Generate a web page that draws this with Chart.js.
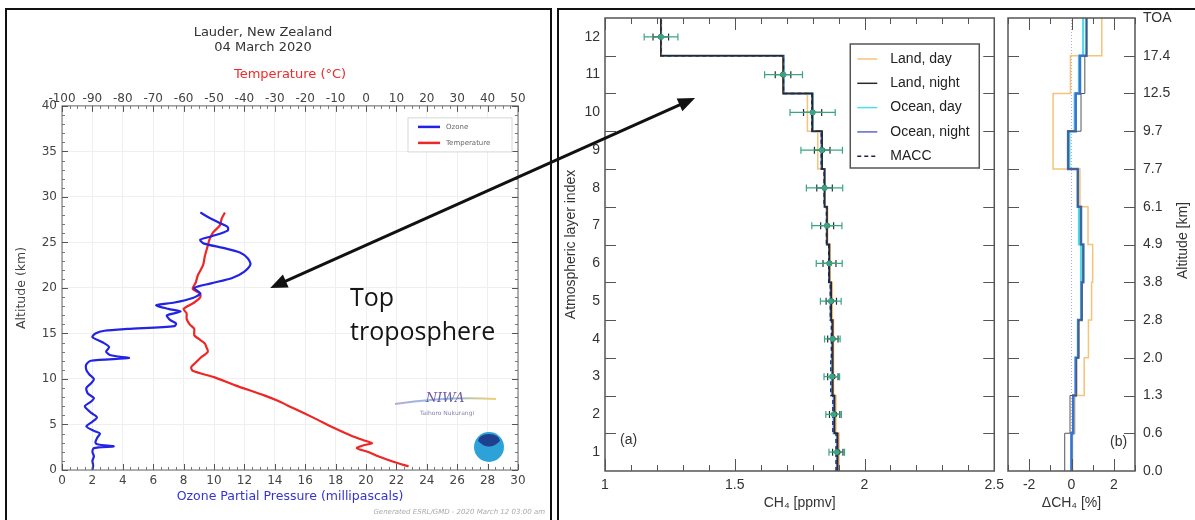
<!DOCTYPE html>
<html>
<head>
<meta charset="utf-8">
<script src="https://cdn.jsdelivr.net/npm/chart.js@4.4.1/dist/chart.umd.min.js"></script>
<style>
  body { margin:0; background:#fff; width:1195px; height:520px; overflow:hidden; position:relative; }
  .box { position:absolute; border:2px solid #111; box-sizing:border-box; }
  canvas { position:absolute; }
</style>
</head>
<body>
<div class="box" style="left:5px;top:8px;width:547px;height:530px"></div>
<div class="box" style="left:557px;top:8px;width:660px;height:530px"></div>
<canvas id="sonde" style="left:0;top:0" width="556" height="520"></canvas>
<canvas id="ch4" style="left:560px;top:0" width="450" height="520"></canvas>
<canvas id="dch4" style="left:1000px;top:0" width="195" height="520"></canvas>
<canvas id="overlay" style="left:0;top:0" width="1195" height="520"></canvas>
<script>
// ozone sounding, Lauder 04 March 2020
const ozoneAlt = [0.0, 0.5, 1.0, 1.5, 2.0, 2.4, 2.6, 2.8, 3.0, 3.5, 4.0, 4.3, 4.8, 5.3, 5.8, 6.3, 7.0, 7.5, 7.9, 8.4,
  9.0, 9.5, 10.0, 10.5, 11.0, 11.6, 12.0, 12.3, 12.6, 13.0, 13.5, 14.0, 14.6, 15.0, 15.3, 15.5, 15.8, 16.1, 16.5, 17.0,
  17.4, 17.7, 18.1, 18.4, 18.9, 19.4, 20.0, 20.5, 21.1, 21.8, 22.6, 23.3, 23.9, 24.4, 24.9, 25.3, 25.7, 26.3, 26.7,
  27.2, 27.8, 28.3];
const ozoneMpa = [2.0, 2.05, 2.0, 2.1, 2.0, 2.1, 3.4, 2.4, 2.2, 2.3, 2.5, 2.1, 1.6, 2.0, 2.3, 1.9, 1.5, 1.9, 2.1, 1.7,
  1.6, 1.9, 2.1, 1.8, 1.6, 1.6, 1.9, 4.4, 3.2, 2.9, 3.1, 2.7, 2.0, 2.2, 2.8, 4.3, 7.4, 7.5, 7.1, 6.9,
  7.8, 7.0, 6.2, 7.4, 8.6, 9.1, 8.7, 9.8, 11.2, 12.0, 12.4, 12.2, 11.7, 10.6, 9.3, 9.1, 9.9, 10.9, 10.9,
  10.3, 9.6, 9.1];
const tempAlt = [0.4, 0.9, 1.5, 2.0, 2.4, 2.7, 2.95, 3.3, 3.8, 4.7, 5.7, 6.8, 7.6, 8.2, 9.3, 10.2, 10.9, 11.3, 11.8,
  12.3, 13.0, 13.5, 13.9, 14.4, 14.8, 15.5, 16.0, 16.6, 17.2, 17.7, 18.4, 19.0, 19.4, 19.9, 20.6, 21.4, 22.5, 23.5,
  24.7, 25.3, 26.1, 26.9, 27.6, 28.3];
const tempC = [14, 9, 4, 0.5, -3, -1, 2, -1, -5, -11, -17, -24, -29, -33.5, -43, -50, -57, -57.5, -56,
  -54.5, -52, -52.5, -53, -55, -56.5, -56.5, -58, -59, -59, -60, -56.5, -54.5, -54.6, -57, -56, -55.3, -53.6, -53,
  -52, -51.5, -50.3, -48, -47.5, -46.4];

// CH4 retrievals per atmospheric layer (1 = surface ... 12 = top)
const layers = [1, 2, 3, 4, 5, 6, 7, 8, 9, 10, 11, 12];
const landDay    = [1.902, 1.890, 1.882, 1.880, 1.876, 1.868, 1.858, 1.846, 1.820, 1.780, 1.686, 1.215];
const landNight  = [1.897, 1.885, 1.878, 1.878, 1.872, 1.865, 1.856, 1.846, 1.837, 1.800, 1.686, 1.215];
const oceanDay   = [1.893, 1.881, 1.874, 1.876, 1.870, 1.864, 1.855, 1.846, 1.835, 1.800, 1.688, 1.216];
const oceanNight = [1.894, 1.882, 1.875, 1.876, 1.870, 1.864, 1.855, 1.847, 1.835, 1.798, 1.688, 1.216];
const macc       = [1.890, 1.878, 1.870, 1.872, 1.868, 1.862, 1.853, 1.844, 1.833, 1.797, 1.688, 1.216];
const errWide    = [0.03, 0.03, 0.03, 0.03, 0.04, 0.05, 0.058, 0.07, 0.08, 0.087, 0.073, 0.065];
const errNarrow  = [0.02, 0.02, 0.02, 0.02, 0.02, 0.025, 0.025, 0.03, 0.03, 0.035, 0.03, 0.03];

// relative differences (%)
const dLandDay    = [0.05, 0.16, 0.6, 0.8, 0.95, 1.0, 0.78, 0.4, -0.87, -0.87, -0.05, 1.43];
const dLandNight  = [-0.32, -0.07, 0.25, 0.35, 0.5, 0.55, 0.45, 0.3, -0.16, 0.45, 0.63, 0.71];
const dOceanDay   = [0.0, 0.08, 0.2, 0.3, 0.45, 0.45, 0.35, 0.3, -0.1, 0.15, 0.35, 0.55];
const dOceanNight = [0.0, 0.08, 0.2, 0.32, 0.48, 0.56, 0.45, 0.3, -0.16, 0.2, 0.4, 0.71];
const altLabels = ['0.0', '0.6', '1.3', '2.0', '2.8', '3.8', '4.9', '6.1', '7.7', '9.7', '12.5', '17.4', 'TOA'];

// arrow anchors (data coords): sonde [mPa, km] -> CH4 panel [ppmv, layer]
const arrowFrom = [13.7, 20.0];
const arrowTo = [1.347, 10.38];

const C_LD = '#f5c37a', C_LN = '#2a2a2a', C_OD = '#4fdde8', C_ON = '#5d68cc', C_MACC = '#1c2050';

function range(a, b, step) {
  const out = [], n = Math.round((b - a) / step);
  for (let i = 0; i <= n; i++) out.push(a + i * step);
  return out;
}
const steps = vals => vals.flatMap((v, i) => [{x: v, y: layers[i] - 0.5}, {x: v, y: layers[i] + 0.5}]);
const errPts = (ctr, half) => ctr.flatMap((c, i) => [
  {x: c - half[i], y: layers[i]}, {x: c, y: layers[i]}, {x: c + half[i], y: layers[i]}, {x: null, y: null}]);

function frame(chart, color, lw) {
  const {ctx, chartArea: a} = chart;
  ctx.save();
  ctx.strokeStyle = color; ctx.lineWidth = lw;
  ctx.strokeRect(a.left, a.top, a.right - a.left, a.bottom - a.top);
  ctx.restore();
}
function inTicks(chart, id, values, len, color) {
  const {ctx, chartArea: a} = chart, s = chart.scales[id];
  ctx.save();
  ctx.strokeStyle = color; ctx.lineWidth = 1;
  ctx.beginPath();
  values.forEach(v => {
    const p = Math.round(s.getPixelForValue(v)) + 0.5;
    if (s.isHorizontal()) {
      ctx.moveTo(p, a.bottom); ctx.lineTo(p, a.bottom - len);
      ctx.moveTo(p, a.top); ctx.lineTo(p, a.top + len);
    } else {
      ctx.moveTo(a.left, p); ctx.lineTo(a.left + len, p);
      ctx.moveTo(a.right, p); ctx.lineTo(a.right - len, p);
    }
  });
  ctx.stroke();
  ctx.restore();
}
function boxLegend(chart, b) {
  const ctx = chart.ctx;
  ctx.save();
  ctx.fillStyle = '#fff';
  ctx.fillRect(b.x, b.y, b.w, b.h);
  ctx.strokeStyle = b.border; ctx.lineWidth = b.bw;
  ctx.strokeRect(b.x, b.y, b.w, b.h);
  chart.data.datasets.filter(d => !d.noLegend).forEach((d, i) => {
    const y = b.y + b.first + i * b.row;
    ctx.strokeStyle = d.borderColor; ctx.lineWidth = b.lw;
    ctx.setLineDash(d.borderDash || []);
    ctx.beginPath(); ctx.moveTo(b.x + b.l0, y); ctx.lineTo(b.x + b.l1, y); ctx.stroke();
    ctx.setLineDash([]);
    ctx.fillStyle = b.color; ctx.font = b.font; ctx.textBaseline = 'middle';
    ctx.fillText(d.label, b.x + b.tx, y);
  });
  ctx.restore();
}
function text(ctx, str, x, y, font, color, align) {
  ctx.save();
  ctx.font = font; ctx.fillStyle = color; ctx.textAlign = align || 'left'; ctx.textBaseline = 'middle';
  ctx.fillText(str, x, y);
  ctx.restore();
}

const DJ = 'DejaVu Sans, sans-serif';
const LS = 'Liberation Sans, Arial, sans-serif';

// ---------------- left: ozone sounding ----------------
const sondeChart = new Chart(document.getElementById('sonde'), {
  type: 'line',
  data: {
    datasets: [
      { label: 'Ozone', data: ozoneAlt.map((a, i) => ({x: ozoneMpa[i], y: a})), xAxisID: 'x', yAxisID: 'y',
        borderColor: '#2323e6', borderWidth: 2.2, pointRadius: 0, tension: 0.25 },
      { label: 'Temperature', data: tempAlt.map((a, i) => ({x: tempC[i], y: a})), xAxisID: 'xT', yAxisID: 'y',
        borderColor: '#ee2626', borderWidth: 2.2, pointRadius: 0, tension: 0.25 }
    ]
  },
  options: {
    responsive: false, animation: false,
    layout: { padding: { left: 8, right: 38, top: 0, bottom: 4 } },
    plugins: {
      legend: { display: false }, tooltip: { enabled: false },
      title: { display: true, text: ['Lauder, New Zealand', '04 March 2020'], color: '#333',
        font: { family: DJ, size: 13, weight: 'normal', lineHeight: 1.15 }, padding: { top: 25, bottom: 0 } }
    },
    scales: {
      x: { type: 'linear', position: 'bottom', min: 0, max: 30,
        ticks: { stepSize: 2, autoSkip: false, maxRotation: 0, padding: 4, color: '#444', font: { family: DJ, size: 12 } },
        grid: { color: '#efefef', drawTicks: false }, border: { display: false },
        title: { display: true, text: 'Ozone Partial Pressure (millipascals)', color: '#3434d4',
          font: { family: DJ, size: 12.5 }, padding: { top: 0, bottom: 12 } },
        afterFit: s => { s.height = 46; } },
      xT: { type: 'linear', position: 'top', min: -100, max: 50,
        ticks: { stepSize: 10, autoSkip: false, maxRotation: 0, padding: 0, color: '#444', font: { family: DJ, size: 12 } },
        grid: { display: false, drawTicks: false }, border: { display: false },
        title: { display: true, text: 'Temperature (°C)', color: '#ee2a2a',
          font: { family: DJ, size: 13 }, padding: { top: 12, bottom: 0 } },
        afterFit: s => { s.height = 51; } },
      y: { type: 'linear', min: 0, max: 40,
        ticks: { stepSize: 5, padding: 5, color: '#444', font: { family: DJ, size: 12 } },
        grid: { color: '#efefef', drawTicks: false }, border: { display: false },
        title: { display: true, text: 'Altitude (km)', color: '#444', font: { family: DJ, size: 12.5 }, padding: { top: 6 } },
        afterFit: s => { s.width = 54; } }
    }
  },
  plugins: [{
    id: 'sondeDecor',
    afterDatasetsDraw(chart) {
      const ctx = chart.ctx, a = chart.chartArea;
      frame(chart, '#666', 1);
      inTicks(chart, 'x', range(0, 30, 0.5), 3, '#777');
      inTicks(chart, 'x', range(0, 30, 2), 6, '#555');
      inTicks(chart, 'y', range(0, 40, 1), 3, '#777');
      inTicks(chart, 'y', range(0, 40, 5), 6, '#555');
      boxLegend(chart, { x: a.right - 110, y: a.top + 12, w: 104, h: 34, border: '#d8d8d8', bw: 1,
        first: 9, row: 16, l0: 10, l1: 32, tx: 38, lw: 2.5, color: '#666', font: '7px ' + DJ });
      // NIWA logo
      ctx.save();
      const g = ctx.createLinearGradient(a.right - 123, 0, a.right - 22, 0);
      g.addColorStop(0, '#b9a9d8'); g.addColorStop(0.5, '#8cc0e0'); g.addColorStop(1, '#f0d070');
      ctx.strokeStyle = g; ctx.lineWidth = 2;
      ctx.beginPath(); ctx.moveTo(a.right - 123, 404); ctx.quadraticCurveTo(a.right - 70, 396, a.right - 22, 399); ctx.stroke();
      ctx.restore();
      text(ctx, 'NIWA', a.right - 73, 399, 'italic 13px DejaVu Serif, serif', '#6f5aa8', 'center');
      text(ctx, 'Taihoro Nukurangi', a.right - 71, 413, '6px ' + DJ, '#8a80b0', 'center');
      // NOAA logo
      ctx.save();
      ctx.fillStyle = '#2da2d8';
      ctx.beginPath(); ctx.arc(a.right - 29, 447, 15, 0, Math.PI * 2); ctx.fill();
      ctx.fillStyle = '#1f3f8f';
      ctx.beginPath(); ctx.ellipse(a.right - 29, 441, 11, 7, 0, Math.PI, 0); ctx.quadraticCurveTo(a.right - 29, 452, a.right - 40, 441); ctx.fill();
      ctx.restore();
      text(ctx, 'Generated ESRL/GMD - 2020 March 12 03:00 am', 545, 512, 'italic 7px ' + DJ, '#aaa', 'right');
    }
  }]
});

// ---------------- (a): CH4 profiles ----------------
const errStyle = color => ({
  borderColor: color, backgroundColor: color, borderWidth: 1.2, noLegend: true, order: 0,
  pointStyle: c => c.dataIndex % 4 === 1 ? 'circle' : 'line',
  rotation: c => c.dataIndex % 4 === 1 ? 0 : 90,
  pointRadius: c => c.dataIndex % 4 === 1 ? 2.2 : 3.5
});
const ch4Chart = new Chart(document.getElementById('ch4'), {
  type: 'line',
  data: {
    datasets: [
      { label: 'Land, day', data: steps(landDay), borderColor: C_LD, borderWidth: 1.5, pointRadius: 0, order: 2 },
      { label: 'Land, night', data: steps(landNight), borderColor: C_LN, borderWidth: 1.5, pointRadius: 0, order: 1 },
      { label: 'Ocean, day', data: steps(oceanDay), borderColor: C_OD, borderWidth: 2, pointRadius: 0, order: 4 },
      { label: 'Ocean, night', data: steps(oceanNight), borderColor: C_ON, borderWidth: 2, pointRadius: 0, order: 3 },
      { label: 'MACC', data: steps(macc), borderColor: C_MACC, borderWidth: 1.3, borderDash: [4, 3], pointRadius: 0, order: 1 },
      Object.assign({ label: 'err wide', data: errPts(oceanDay, errWide) }, errStyle('#3aa582')),
      Object.assign({ label: 'err narrow', data: errPts(landNight, errNarrow) }, errStyle('#1e3434'))
    ]
  },
  options: {
    responsive: false, animation: false,
    layout: { padding: { left: 0, right: 13, top: 18, bottom: 0 } },
    plugins: { legend: { display: false }, tooltip: { enabled: false } },
    scales: {
      x: { type: 'linear', min: 1, max: 2.5,
        ticks: { stepSize: 0.5, autoSkip: false, maxRotation: 0, padding: 6, color: '#333', font: { family: LS, size: 14 },
          callback: v => String(Number(v)) },
        grid: { display: false, drawTicks: false }, border: { display: false },
        title: { display: true, text: 'CH₄ [ppmv]', color: '#333', font: { family: LS, size: 14 }, padding: { top: 0, bottom: 8 } },
        afterFit: s => { s.height = 49; } },
      y: { type: 'linear', min: 0.5, max: 12.5,
        afterBuildTicks: s => { s.ticks = layers.map(v => ({ value: v })); },
        ticks: { padding: 5, color: '#333', font: { family: LS, size: 14 } },
        grid: { display: false, drawTicks: false }, border: { display: false },
        title: { display: true, text: 'Atmospheric layer index', color: '#333', font: { family: LS, size: 14 }, padding: { top: 3 } },
        afterFit: s => { s.width = 45; } }
    }
  },
  plugins: [{
    id: 'ch4Decor',
    afterDatasetsDraw(chart) {
      const a = chart.chartArea;
      frame(chart, '#555', 1.5);
      inTicks(chart, 'x', range(1, 2.5, 0.1), 6, '#555');
      inTicks(chart, 'x', range(1, 2.5, 0.5), 12, '#555');
      inTicks(chart, 'y', range(1.5, 11.5, 1), 11, '#555');
      boxLegend(chart, { x: a.right - 144, y: a.top + 26, w: 129, h: 124, border: '#555', bw: 1.5,
        first: 15, row: 24.3, l0: 7, l1: 27, tx: 40, lw: 1.5, color: '#222', font: '14px ' + LS });
      text(chart.ctx, '(a)', a.left + 15, 440, '14px ' + LS, '#333', 'left');
    }
  }]
});

// ---------------- (b): differences ----------------
const dch4Chart = new Chart(document.getElementById('dch4'), {
  type: 'line',
  data: {
    datasets: [
      { label: 'zero', data: [{x: 0, y: 0.5}, {x: 0, y: 12.5}], borderColor: '#b9a8d8', borderWidth: 1, borderDash: [1, 2], pointRadius: 0, order: 5 },
      { label: 'Land, day', data: steps(dLandDay), borderColor: C_LD, borderWidth: 1.5, pointRadius: 0, order: 4 },
      { label: 'Ocean, day', data: steps(dOceanDay), borderColor: C_OD, borderWidth: 2.2, pointRadius: 0, order: 3 },
      { label: 'Ocean, night', data: steps(dOceanNight), borderColor: '#3b72d2', borderWidth: 2.5, pointRadius: 0, order: 2 },
      { label: 'Land, night', data: steps(dLandNight), borderColor: '#555', borderWidth: 1, pointRadius: 0, order: 1 }
    ]
  },
  options: {
    responsive: false, animation: false,
    layout: { padding: { left: 8, right: 0, top: 18, bottom: 0 } },
    plugins: { legend: { display: false }, tooltip: { enabled: false } },
    scales: {
      x: { type: 'linear', min: -3, max: 3,
        afterBuildTicks: s => { s.ticks = [-2, 0, 2].map(v => ({ value: v })); },
        ticks: { autoSkip: false, maxRotation: 0, padding: 6, color: '#333', font: { family: LS, size: 14 } },
        grid: { display: false, drawTicks: false }, border: { display: false },
        title: { display: true, text: 'ΔCH₄ [%]', color: '#333', font: { family: LS, size: 14 }, padding: { top: 0, bottom: 8 } },
        afterFit: s => { s.height = 49; } },
      y: { type: 'linear', position: 'right', min: 0.5, max: 12.5,
        afterBuildTicks: s => { s.ticks = range(0.5, 12.5, 1).map(v => ({ value: v })); },
        ticks: { padding: 8, color: '#333', font: { family: LS, size: 14 }, callback: (v, i) => altLabels[i] },
        grid: { display: false, drawTicks: false }, border: { display: false },
        afterFit: s => { s.width = 60; } }
    }
  },
  plugins: [{
    id: 'dch4Decor',
    afterDatasetsDraw(chart) {
      const a = chart.chartArea, ctx = chart.ctx;
      frame(chart, '#555', 1.5);
      inTicks(chart, 'x', range(-3, 3, 1), 6, '#555');
      inTicks(chart, 'x', [-2, 0, 2], 12, '#555');
      inTicks(chart, 'y', range(1.5, 11.5, 1), 11, '#555');
      text(ctx, '(b)', a.right - 25, 442, '14px ' + LS, '#333', 'left');
      ctx.save();
      ctx.translate(183, (a.top + a.bottom) / 2 - 4);
      ctx.rotate(-Math.PI / 2);
      text(ctx, 'Altitude [km]', 0, 0, '14px ' + LS, '#333', 'center');
      ctx.restore();
    }
  }]
});

// ---------------- overlay: annotation arrow and note ----------------
const ov = document.getElementById('overlay').getContext('2d');
function pagePt(chart, el, v) {
  return [el.offsetLeft + chart.scales.x.getPixelForValue(v[0]), el.offsetTop + chart.scales.y.getPixelForValue(v[1])];
}
function head(ctx, from, to) {
  const ang = Math.atan2(to[1] - from[1], to[0] - from[0]), L = 17, W = 7;
  ctx.beginPath();
  ctx.moveTo(to[0], to[1]);
  ctx.lineTo(to[0] - L * Math.cos(ang) + W * Math.sin(ang), to[1] - L * Math.sin(ang) - W * Math.cos(ang));
  ctx.lineTo(to[0] - L * Math.cos(ang) - W * Math.sin(ang), to[1] - L * Math.sin(ang) + W * Math.cos(ang));
  ctx.closePath();
  ctx.fill();
}
const p0 = pagePt(sondeChart, document.getElementById('sonde'), arrowFrom);
const p1 = pagePt(ch4Chart, document.getElementById('ch4'), arrowTo);
ov.strokeStyle = '#111'; ov.fillStyle = '#111'; ov.lineWidth = 3;
const ang = Math.atan2(p1[1] - p0[1], p1[0] - p0[0]);
ov.beginPath();
ov.moveTo(p0[0] + 12 * Math.cos(ang), p0[1] + 12 * Math.sin(ang));
ov.lineTo(p1[0] - 12 * Math.cos(ang), p1[1] - 12 * Math.sin(ang));
ov.stroke();
head(ov, p1, p0);
head(ov, p0, p1);

ov.font = '25px "Open Sans", sans-serif';
ov.fillStyle = '#151515';
ov.textBaseline = 'alphabetic';
ov.fillText('Top', 350, 306);
ov.fillText('troposphere', 350, 340);
</script>
</body>
</html>
